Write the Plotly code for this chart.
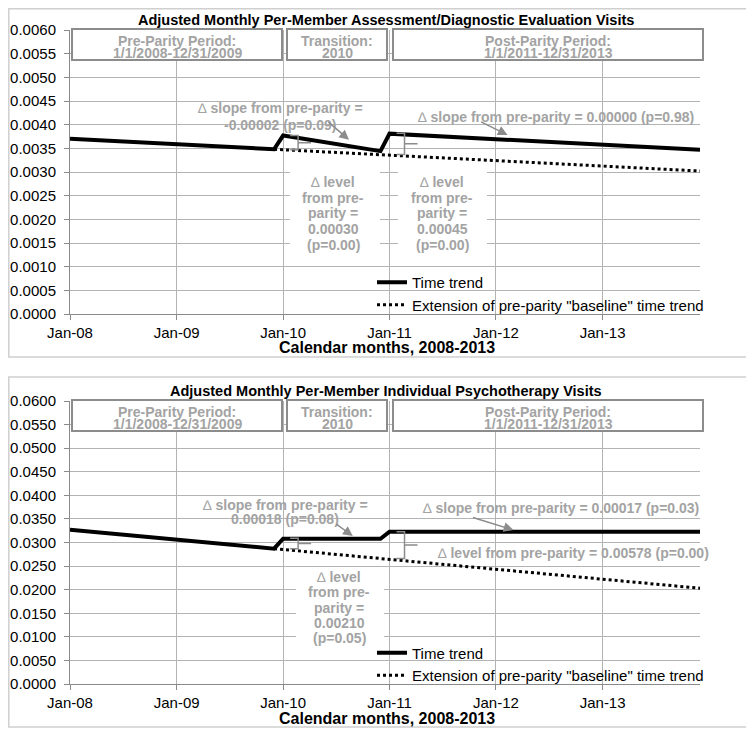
import plotly.graph_objects as go

# the page body adds an 8px margin, so the figure is drawn 8px in from the corner
OFF = 8
W, H = 754 - OFF, 735 - OFF

# ---- values ----
trend_dates = ["2008-01-01", "2009-12-01", "2010-01-01", "2010-12-01", "2011-01-01", "2013-12-01"]
base_dates = ["2009-12-01", "2013-12-01"]

assess_trend = [0.00370, 0.00348, 0.00377, 0.00344, 0.00381, 0.00347]
assess_base = [0.00348, 0.00302]

psych_trend = [0.0327, 0.0287, 0.0308, 0.0308, 0.0323, 0.0323]
psych_base = [0.0287, 0.0203]

# level-change braces: (date, top, bottom)
assess_braces = [("2010-01-01", 0.00377, 0.00347), ("2011-01-01", 0.00382, 0.00337)]
psych_braces = [("2010-01-01", 0.0309, 0.0287), ("2011-01-01", 0.0323, 0.0266)]

titles = [
    "Adjusted Monthly Per-Member Assessment/Diagnostic Evaluation Visits",
    "Adjusted Monthly Per-Member Individual Psychotherapy Visits",
]
periods = [
    ("Pre-Parity Period:", "1/1/2008-12/31/2009"),
    ("Transition:", "2010"),
    ("Post-Parity Period:", "1/1/2011-12/31/2013"),
]
legend_names = ["Time trend", 'Extension of pre-parity "baseline" time trend']
x_title = "Calendar months, 2008-2013"

# colours
GRID = "#B3B3B3"
AXIS = "#8A8A8A"
BOX = "#8C8C8C"
NOTE = "#A3A3A3"
FRAME = "#CFCFCF"
FONT = "Liberation Sans, Arial, sans-serif"
DELTA = "∆"


def px(x):
    return (x - OFF) / W


def py(y):
    return 1 - (y - OFF) / H


def text(fig, x, y, s, size=14, color=NOTE, bold=True):
    if bold:
        s = f"<b>{s}</b>"
    s = s.replace(DELTA, f"</b>{DELTA}<b>")
    fig.add_annotation(
        xref="paper", yref="paper", x=px(x), y=py(y), text=s,
        showarrow=False, xanchor="center", yanchor="middle",
        font=dict(size=size, color=color, family=FONT),
    )


def lines(fig, x, y0, step, rows):
    for i, s in enumerate(rows):
        text(fig, x, y0 + i * step, s)


def rect(fig, x0, y0, x1, y1, line_color=None, width=0, fill=None):
    fig.add_shape(
        type="rect", xref="paper", yref="paper",
        x0=px(x0), x1=px(x1), y0=py(y0), y1=py(y1),
        line=dict(color=line_color or "rgba(0,0,0,0)", width=width),
        fillcolor=fill or "rgba(0,0,0,0)", layer="above",
    )


def arrow(fig, xa, ya, date, val, ax, ay):
    fig.add_annotation(
        xref=xa, yref=ya, x=date, y=val, ax=ax, ay=ay, text="",
        showarrow=True, arrowhead=2, arrowsize=1.3, arrowwidth=1.5,
        arrowcolor=BOX, standoff=0,
    )


def brace(fig, xa, ya, date, top, bottom, off=15):
    mid = (top + bottom) / 2
    fig.add_shape(
        type="path", xref=xa, yref=ya, xsizemode="pixel", xanchor=date,
        path=(f"M{off-8},{top} L{off},{top} L{off},{bottom} L{off-8},{bottom} "
              f"M{off},{mid} L{off+13},{mid}"),
        line=dict(color=BOX, width=1.5), layer="above",
    )


fig = go.Figure()

panels = [
    dict(trend=assess_trend, base=assess_base, braces=assess_braces, xa="x", ya="y",
         legend="legend", dy=0),
    dict(trend=psych_trend, base=psych_base, braces=psych_braces, xa="x2", ya="y2",
         legend="legend2", dy=371),
]

for i, p in enumerate(panels):
    fig.add_trace(go.Scatter(
        x=trend_dates, y=p["trend"], mode="lines", name=legend_names[0],
        line=dict(color="black", width=4), xaxis=p["xa"], yaxis=p["ya"],
        legend=p["legend"],
    ))
    fig.add_trace(go.Scatter(
        x=base_dates, y=p["base"], mode="lines", name=legend_names[1],
        line=dict(color="black", width=3, dash="dot"), xaxis=p["xa"], yaxis=p["ya"],
        legend=p["legend"],
    ))
    dy = p["dy"]
    # outer chart frame
    rect(fig, 8.8, max(8.8, 6 + dy), 747, 357 + dy - (1 if i else 0),
         line_color=FRAME, width=1.5)
    # title + x title
    text(fig, 386, 20 + dy, titles[i], size=14.5, color="black")
    text(fig, 387, 347 + dy, x_title, size=16, color="black")
    # period header boxes
    for (x0, x1), (l1, l2) in zip([(72, 282), (287, 387), (393, 703)], periods):
        rect(fig, x0, 29 + dy, x1, 60 + dy, line_color=BOX, width=2, fill="white")
        text(fig, (x0 + x1) / 2, 40.5 + dy, l1)
        text(fig, (x0 + x1) / 2, 53 + dy, l2)
    for d, top, bottom in p["braces"]:
        brace(fig, p["xa"], p["ya"], d, top, bottom)

# ---- Panel 1 notes ----
lines(fig, 280, 108, 17, [f"{DELTA} slope from pre-parity =", "-0.00002 (p=0.09)"])
text(fig, 556, 117, f"{DELTA} slope from pre-parity = 0.00000 (p=0.98)")
arrow(fig, "x", "y", "2010-08-15", 0.00368, -22, -19)
arrow(fig, "x", "y", "2012-02-10", 0.00378, -28, -14)
rect(fig, 290, 172, 380, 255, fill="white")
rect(fig, 398, 172, 487, 255, fill="white")
lines(fig, 333, 182, 15.7, [f"{DELTA} level", "from pre-", "parity =", "0.00030", "(p=0.00)"])
lines(fig, 442, 182, 15.7, [f"{DELTA} level", "from pre-", "parity =", "0.00045", "(p=0.00)"])

# ---- Panel 2 notes ----
lines(fig, 285, 505, 14, [f"{DELTA} slope from pre-parity =", "0.00018 (p=0.08)"])
text(fig, 561, 508, f"{DELTA} slope from pre-parity = 0.00017 (p=0.03)")
text(fig, 573, 553, f"{DELTA} level from pre-parity = 0.00578 (p=0.00)")
arrow(fig, "x2", "y2", "2010-08-28", 0.03138, -18, -13)
arrow(fig, "x2", "y2", "2012-03-01", 0.03265, -42, -13)
rect(fig, 296, 568, 384, 648, fill="white")
lines(fig, 339, 577, 15.3, [f"{DELTA} level", "from pre-", "parity =", "0.00210", "(p=0.05)"])

# ---- Axes ----
xcommon = dict(
    type="date", range=["2008-01-01", "2013-12-01"], tick0="2008-01-01", dtick="M12",
    tickformat="%b-%y", showgrid=True, gridcolor=GRID, gridwidth=1,
    showline=True, linecolor=AXIS, linewidth=1, ticks="outside", ticklen=5,
    tickcolor=AXIS, tickfont=dict(size=15, color="black", family=FONT),
    zeroline=False, automargin=False, domain=[px(70), px(700)],
)
ycommon = dict(
    showgrid=True, gridcolor=GRID, gridwidth=1, showline=True, linecolor=AXIS,
    linewidth=1, ticks="outside", ticklen=5, tickcolor=AXIS, ticklabelstandoff=5,
    tickfont=dict(size=15, color="black", family=FONT), zeroline=False,
    tickformat=".4f", automargin=False,
)

legend_common = dict(
    bgcolor="rgba(0,0,0,0)", borderwidth=0, xanchor="left", yanchor="middle",
    font=dict(size=15, color="black", family=FONT), tracegroupgap=0,
)

fig.update_layout(
    template="none",
    width=W, height=H,
    margin=dict(l=0, r=0, t=0, b=0, autoexpand=False),
    paper_bgcolor="white", plot_bgcolor="white",
    font=dict(family=FONT, color="black"),
    showlegend=True,
    xaxis=dict(xcommon, anchor="y"),
    yaxis=dict(ycommon, anchor="x", range=[0, 0.006], dtick=0.0005,
               domain=[py(314), py(30)]),
    xaxis2=dict(xcommon, anchor="y2"),
    yaxis2=dict(ycommon, anchor="x2", range=[0, 0.06], dtick=0.005,
                domain=[py(684), py(401)]),
    legend=dict(legend_common, x=px(372), y=py(293.5)),
    legend2=dict(legend_common, x=px(372), y=py(664)),
)

fig.write_html("out.html")
